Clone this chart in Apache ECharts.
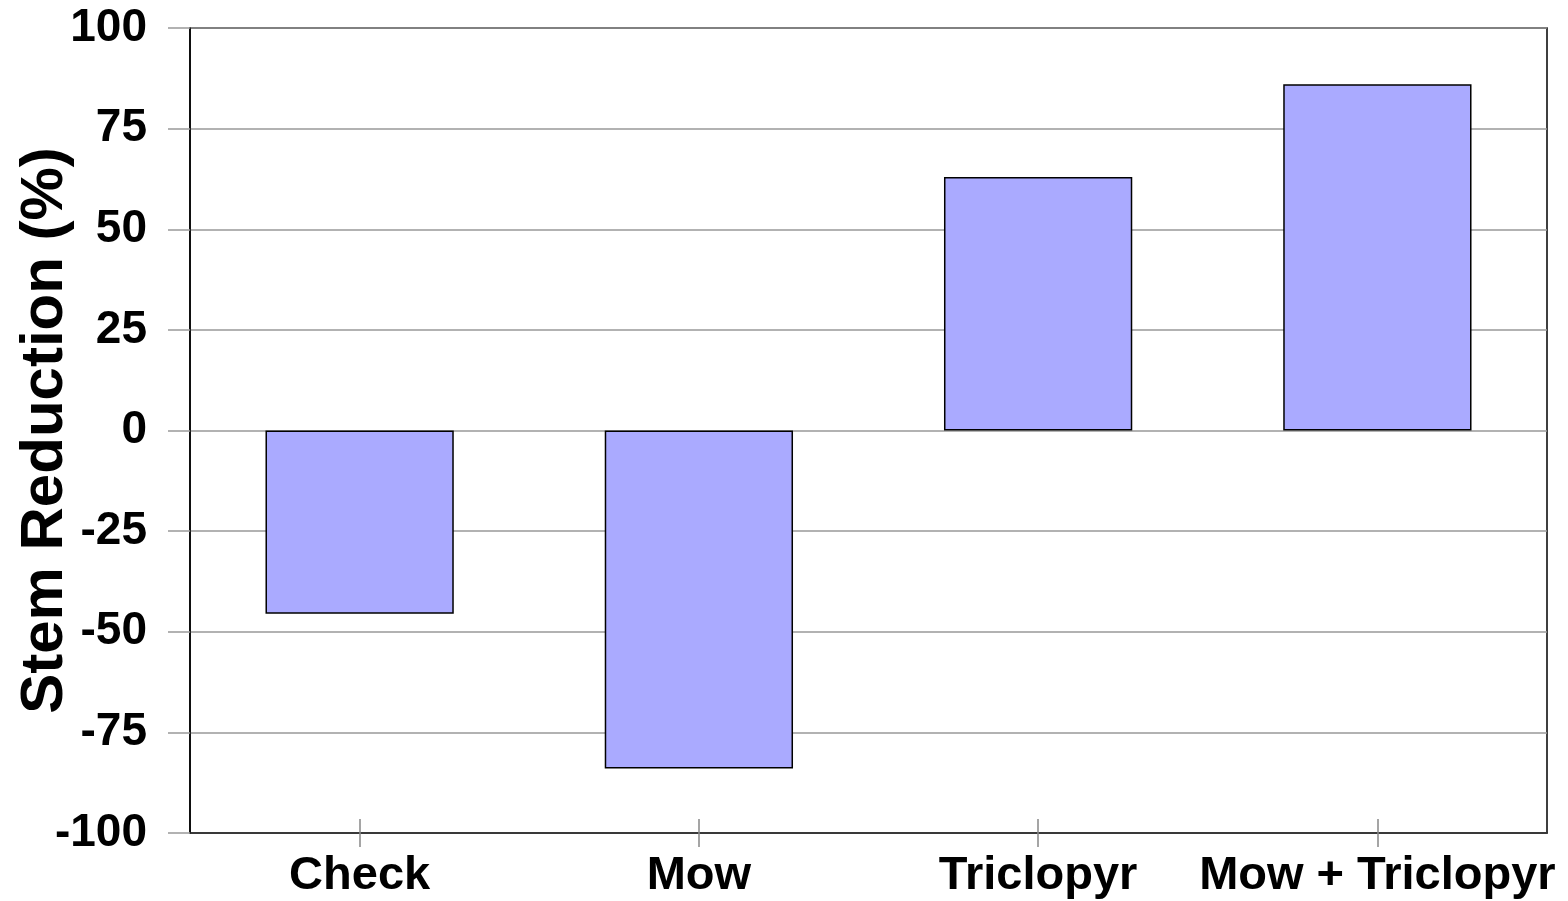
<!DOCTYPE html>
<html>
<head>
<meta charset="utf-8">
<script src="https://cdn.jsdelivr.net/npm/echarts@6/dist/echarts.min.js"></script>
<style>html,body{margin:0;padding:0;background:#fff;}#c{width:1568px;height:901px;}</style>
</head>
<body>
<div id="c"></div>
<script>
const categories = ['Check', 'Mow', 'Triclopyr', 'Mow + Triclopyr'];
const stemReduction = [-45.5, -84, 63, 86];
const yTicks = { min: -100, max: 100, interval: 25 };
const yAxisTitle = 'Stem Reduction (%)';

const chart = echarts.init(document.getElementById('c'));
const font = 'Liberation Sans, Arial, Helvetica, sans-serif';
chart.setOption({
  animation: false,
  backgroundColor: '#fff',
  grid: { left: 190, right: 21, top: 28, bottom: 68, show: true, borderColor: '#000', borderWidth: 1.5,
          containLabel: false, outerBoundsMode: 'none' },
  xAxis: [{
    type: 'category', data: categories, position: 'bottom',
    axisLine: { show: true, onZero: false, lineStyle: { color: '#222', width: 1.5 } },
    axisTick: { show: true, alignWithLabel: true, length: 14, lineStyle: { color: '#888', width: 1.5 } },
    axisLabel: { color: '#000', fontFamily: font, fontWeight: 'bold', fontSize: 47, margin: 20, interval: 0 },
    splitLine: { show: false }
  }, {
    type: 'category', data: categories, position: 'bottom',
    axisLine: { show: false, onZero: false },
    axisTick: { show: true, inside: true, alignWithLabel: true, length: 14, lineStyle: { color: '#888', width: 1.5 } },
    axisLabel: { show: false },
    splitLine: { show: false }
  }],
  yAxis: {
    type: 'value', min: yTicks.min, max: yTicks.max, interval: yTicks.interval,
    name: yAxisTitle, nameLocation: 'middle', nameGap: 115, nameMoveOverlap: false,
    nameTextStyle: { color: '#000', fontFamily: font, fontWeight: 'bold', fontSize: 60 },
    axisLine: { show: true, lineStyle: { color: '#000', width: 1.5 } },
    axisTick: { show: true, length: 22, lineStyle: { color: '#999', width: 1.5 } },
    axisLabel: { color: '#000', fontFamily: font, fontWeight: 'bold', fontSize: 46, margin: 43 },
    splitLine: { show: true, lineStyle: { color: '#999', width: 1.5 } }
  },
  series: [{
    type: 'bar', data: stemReduction, barWidth: '55.5%', xAxisIndex: 0,
    itemStyle: { color: '#AAAAFF', borderColor: '#000', borderWidth: 1.5 }
  }]
});
</script>
</body>
</html>
